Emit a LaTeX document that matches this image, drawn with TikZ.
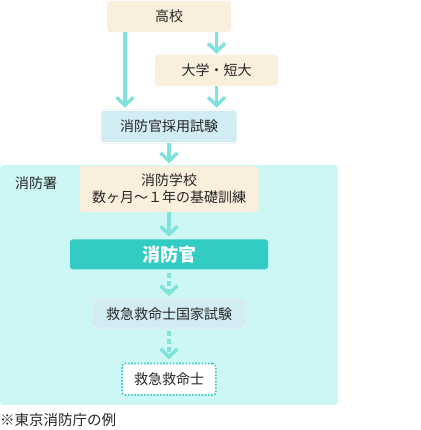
\documentclass[tikz,border=0pt]{standalone}
\usepackage{fontspec}
\setmainfont{Noto Sans CJK JP}
\definecolor{ink}{HTML}{262626}
\definecolor{beige}{HTML}{FAEEDC}
\definecolor{exam}{HTML}{D2ECF3}
\definecolor{examline}{HTML}{C3E6EE}
\definecolor{station}{HTML}{CCF7F4}
\definecolor{teal}{HTML}{33CCC4}
\definecolor{flow}{HTML}{80E2DA}
\usepackage{tikz}
\usetikzlibrary{arrows.meta,positioning}
\tikzset{
  node_beige/.style={fill=beige,rounded corners=3pt,inner sep=2pt,align=center,
    font=\fontsize{14}{17}\selectfont,text=ink},
  node_exam/.style={fill=exam,draw=examline,double=white,double distance=0.7pt,line width=0.6pt,
    rounded corners=3pt,inner sep=2pt,align=center,font=\fontsize{14}{17}\selectfont,text=ink},
  node_main/.style={fill=teal,rounded corners=3pt,inner sep=2pt,align=center,
    font=\fontsize{18}{20}\selectfont\bfseries,text=white},
  node_goal/.style={fill=white,draw=teal,line width=1.6pt,dash pattern=on 1.6pt off 1.6pt,
    rounded corners=3pt,inner sep=2pt,align=center,font=\fontsize{14}{17}\selectfont,text=ink},
  arr/.style={-{Straight Barb[length=8pt,width=17pt]},draw=flow,line width=3.5pt,shorten >=2.5pt},
  arr_dash/.style={arr,dash pattern=on 5pt off 3pt,shorten <=3pt,shorten >=3.5pt},
}
\begin{document}
\begin{tikzpicture}[x=1pt,y=1pt]
  \useasboundingbox (0,0) rectangle (420,-430);
  % fire station area
  \fill[station,rounded corners=3pt] (0,-165) rectangle (338,-405);
  \node[anchor=west,inner sep=0pt,font=\fontsize{14}{17}\selectfont,text=ink] (sho) at (15,-183) {消防署};
  % route to the exam
  \node[node_beige,minimum width=124pt,minimum height=31pt] (koko) at (169,-16.5) {高校};
  \node[node_beige,minimum width=123pt,minimum height=31pt] (dai) at (216.5,-70.5) {大学・短大};
  \node[node_exam,minimum width=134pt,minimum height=32pt,below=78pt of koko] (saiyo) {消防官採用試験};
  \coordinate (lft) at (125,0);
  % inside the station
  \node[node_beige,minimum width=179pt,minimum height=46pt,below=23pt of saiyo] (gakko) {消防学校\\数ヶ月～１年の基礎訓練};
  \node[node_main,minimum width=198pt,minimum height=30pt,below=27pt of gakko] (kan) {消防官};
  \node[node_exam,minimum width=152pt,minimum height=28pt,below=30pt of kan] (kokka) {救急救命士国家試験};
  \node[node_goal,minimum width=93.5pt,minimum height=31.5pt,below=34.5pt of kokka] (kyumei) {救急救命士};
  \node[anchor=west,inner sep=0pt,font=\fontsize{14.5}{17}\selectfont,text=ink] (note) at (0,-420) {※東京消防庁の例};
  \draw[arr](koko.south -| lft)--(saiyo.north -| lft);
  \draw[arr,shorten >=1pt](koko.south -| dai)--(dai.north);
  \draw[arr](dai.south)--(saiyo.north -| dai);
  \draw[arr](saiyo)--(gakko);\draw[arr](gakko)--(kan);
  \draw[arr_dash](kan)--(kokka);\draw[arr_dash](kokka)--(kyumei);
\end{tikzpicture}
\end{document}
